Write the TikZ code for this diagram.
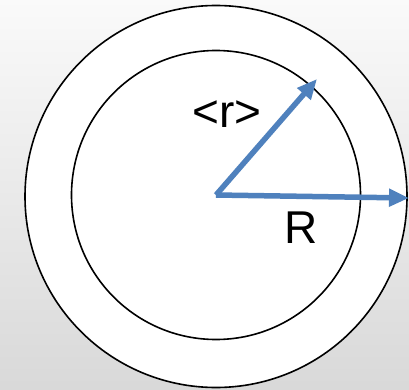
\documentclass[tikz,border=0pt]{standalone}
\usepackage{fontspec}
\setmainfont{Liberation Sans}
\usetikzlibrary{arrows.meta}
\definecolor{arrowblue}{RGB}{79,129,189}
\begin{document}
\begin{tikzpicture}[x=1pt,y=1pt,
  ring/.style={draw=black,line width=1.6pt,fill=white},
  vec/.style={draw=arrowblue,line width=5.5pt,-{Triangle[length=20pt,width=17pt]}},
  lbl/.style={font=\fontsize{46}{52}\selectfont,inner sep=0pt}]
\shade[top color=white!98!black,bottom color=white!85!black] (0,0) rectangle (409,389);
\useasboundingbox (0,0) rectangle (409,389);
\draw[ring] (216,192.5) circle (191);
\draw[ring] (216,194) circle (144.5);
\coordinate (c) at (216,194);
\coordinate (rtip) at (317,310);
\coordinate (Rtip) at (409,191);
\draw[vec] (c) -- (rtip);
\draw[vec] (c) -- (Rtip);
\node[lbl] (r) at (227,275) {<r>};
\node[lbl] (R) at (301,161) {R};
\end{tikzpicture}
\end{document}
